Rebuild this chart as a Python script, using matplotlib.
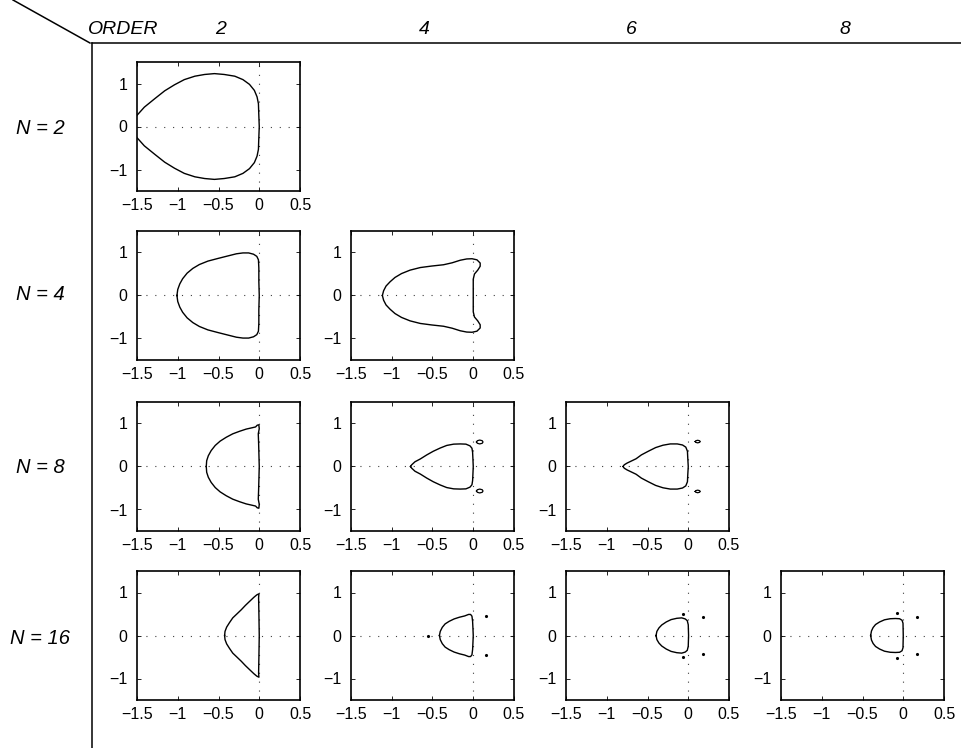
import matplotlib
matplotlib.use("Agg")
import matplotlib.pyplot as plt
from matplotlib.lines import Line2D
import numpy as np

plt.rcParams['font.family'] = ['Liberation Sans', 'DejaVu Sans']

# upper halves of the stability boundaries (the lower half is the mirror image)
# N = 2
n2_o2_x = [-1.50, -1.41, -1.28, -1.16, -1.04, -0.92, -0.79, -0.67, -0.55, -0.43, -0.30, -0.20, -0.12, -0.06, -0.027, -0.010, -0.006, 0.0]
n2_o2_y = [0.26, 0.45, 0.65, 0.83, 0.97, 1.09, 1.17, 1.21, 1.23, 1.21, 1.17, 1.09, 0.98, 0.84, 0.69, 0.53, 0.30, 0.0]

# N = 4
n4_o2_x = [-1.01, -1.00, -0.975, -0.94, -0.885, -0.815, -0.735, -0.63, -0.51, -0.385, -0.28, -0.20, -0.13, -0.07, -0.03, -0.01, -0.005, -0.005, 0.0]
n4_o2_y = [0.0, 0.14, 0.27, 0.39, 0.52, 0.63, 0.72, 0.80, 0.86, 0.92, 0.97, 0.99, 0.99, 0.96, 0.91, 0.83, 0.64, 0.33, 0.0]
n4_o4_x = [-1.115, -1.10, -1.07, -1.02, -0.96, -0.88, -0.775, -0.65, -0.51, -0.365, -0.26, -0.16, -0.08, -0.015, 0.045, 0.085, 0.085, 0.055, 0.015, 0.0, 0.0]
n4_o4_y = [0.0, 0.11, 0.22, 0.32, 0.42, 0.51, 0.59, 0.65, 0.685, 0.715, 0.76, 0.82, 0.85, 0.855, 0.83, 0.755, 0.68, 0.59, 0.50, 0.38, 0.0]

# N = 8
n8_o2_x = [-0.65, -0.645, -0.625, -0.59, -0.54, -0.48, -0.405, -0.325, -0.24, -0.16, -0.09, -0.045, -0.025, -0.005, 0.0, -0.012, -0.008, 0.0]
n8_o2_y = [0.0, 0.135, 0.25, 0.37, 0.49, 0.59, 0.68, 0.76, 0.82, 0.87, 0.90, 0.92, 0.96, 0.97, 0.88, 0.76, 0.56, 0.0]
n8_o4_x = [-0.77, -0.755, -0.715, -0.65, -0.57, -0.49, -0.405, -0.325, -0.24, -0.16, -0.09, -0.04, -0.016, -0.008, -0.004, 0.0]
n8_o4_y = [0.0, 0.04, 0.11, 0.175, 0.27, 0.355, 0.43, 0.49, 0.52, 0.525, 0.52, 0.48, 0.425, 0.33, 0.175, 0.0]
n8_o4_isl_x = [0.04, 0.05, 0.08, 0.11, 0.12, 0.11, 0.08, 0.05, 0.04]
n8_o4_isl_y = [0.57, 0.60, 0.615, 0.60, 0.57, 0.54, 0.525, 0.54, 0.57]
n8_o6_x = [-0.80, -0.785, -0.75, -0.695, -0.64, -0.575, -0.49, -0.40, -0.31, -0.22, -0.135, -0.07, -0.03, -0.01, -0.006, 0.0]
n8_o6_y = [0.0, 0.04, 0.08, 0.13, 0.18, 0.27, 0.355, 0.44, 0.495, 0.525, 0.525, 0.50, 0.45, 0.355, 0.20, 0.0]
n8_o6_isl_x = [0.085, 0.095, 0.116, 0.137, 0.148, 0.137, 0.116, 0.095, 0.085]
n8_o6_isl_y = [0.58, 0.60, 0.61, 0.60, 0.58, 0.56, 0.55, 0.56, 0.58]

# N = 16
n16_o2_x = [-0.425, -0.42, -0.40, -0.365, -0.325, -0.275, -0.22, -0.17, -0.115, -0.065, -0.03, -0.004, -0.008, -0.004, 0.0]
n16_o2_y = [0.0, 0.095, 0.195, 0.30, 0.41, 0.50, 0.60, 0.70, 0.80, 0.89, 0.945, 0.97, 0.88, 0.48, 0.0]
n16_o4_x = [-0.415, -0.405, -0.38, -0.345, -0.295, -0.235, -0.17, -0.105, -0.057, -0.033, -0.016, -0.008, -0.004, 0.0]
n16_o4_y = [0.0, 0.095, 0.19, 0.27, 0.33, 0.385, 0.425, 0.455, 0.49, 0.49, 0.45, 0.33, 0.175, 0.0]
n16_o4_dots_x = [0.152, 0.152, -0.557]
n16_o4_dots_y = [0.46, -0.46, 0.0]
n16_o6_x = [-0.395, -0.385, -0.36, -0.325, -0.27, -0.21, -0.14, -0.08, -0.037, -0.012, 0.0, 0.004]
n16_o6_y = [0.0, 0.095, 0.175, 0.245, 0.315, 0.37, 0.40, 0.41, 0.385, 0.345, 0.25, 0.0]
n16_o6_dots_x = [-0.066, -0.066, 0.176, 0.176]
n16_o6_dots_y = [0.50, -0.50, 0.43, -0.43]
n16_o8_x = [-0.40, -0.39, -0.37, -0.34, -0.29, -0.23, -0.16, -0.095, -0.045, -0.015, -0.003, 0.0]
n16_o8_y = [0.0, 0.105, 0.185, 0.255, 0.315, 0.365, 0.39, 0.395, 0.39, 0.355, 0.285, 0.0]
n16_o8_dots_x = [-0.073, -0.073, 0.169, 0.169]
n16_o8_dots_y = [0.52, -0.52, 0.44, -0.44]

orders = ['2', '4', '6', '8']
row_names = ['N = 2', 'N = 4', 'N = 8', 'N = 16']
x_ticks = [-1.5, -1, -0.5, 0, 0.5]
x_ticklabels = ['\u22121.5', '\u22121', '\u22120.5', '0', '0.5']
y_ticks = [-1, 0, 1]
y_ticklabels = ['\u22121', '0', '1']

panels = {
    (0, 0): (n2_o2_x, n2_o2_y, None, None, None),
    (1, 0): (n4_o2_x, n4_o2_y, None, None, None),
    (1, 1): (n4_o4_x, n4_o4_y, None, None, None),
    (2, 0): (n8_o2_x, n8_o2_y, None, None, None),
    (2, 1): (n8_o4_x, n8_o4_y, (n8_o4_isl_x, n8_o4_isl_y), None, None),
    (2, 2): (n8_o6_x, n8_o6_y, (n8_o6_isl_x, n8_o6_isl_y), None, None),
    (3, 0): (n16_o2_x, n16_o2_y, None, None, None),
    (3, 1): (n16_o4_x, n16_o4_y, None, n16_o4_dots_x, n16_o4_dots_y),
    (3, 2): (n16_o6_x, n16_o6_y, None, n16_o6_dots_x, n16_o6_dots_y),
    (3, 3): (n16_o8_x, n16_o8_y, None, n16_o8_dots_x, n16_o8_dots_y),
}

W, H = 961, 748
fig = plt.figure(figsize=(W / 100, H / 100), dpi=100)

col_left = [137, 351, 566, 781]
row_bottom = [191, 360, 531, 700]
aw, ah = 163, 129

for (r, c), (cx, cy, isl, dx, dy) in panels.items():
    ax = fig.add_axes([col_left[c] / W, 1 - row_bottom[r] / H, aw / W, ah / H])
    ax.axhline(0, color='0.25', lw=0.8, ls=(0, (1, 7)), zorder=1)
    ax.axvline(0, color='0.25', lw=0.8, ls=(0, (1, 7)), zorder=1)
    # mirror the upper half to get the closed curve
    cx = np.array(cx)
    cy = np.array(cy)
    full_x = np.concatenate([cx, cx[::-1][1:]])
    full_y = np.concatenate([cy, -cy[::-1][1:]])
    ax.plot(full_x, full_y, color='k', lw=1.0, zorder=3)
    if isl is not None:
        ix, iy = np.array(isl[0]), np.array(isl[1])
        ax.plot(ix, iy, color='k', lw=0.9)
        ax.plot(ix, -iy, color='k', lw=0.9)
    if dx is not None:
        ax.plot(dx, dy, 'k.', ms=2.5)
    ax.set_xlim(-1.5, 0.5)
    ax.set_ylim(-1.5, 1.5)
    ax.set_xticks(x_ticks)
    ax.set_xticklabels(x_ticklabels)
    ax.set_yticks(y_ticks)
    ax.set_yticklabels(y_ticklabels)
    ax.tick_params(direction='in', top=True, right=True, length=3, width=0.6, labelsize=11.5)
    ax.tick_params(axis='x', pad=5)
    ax.tick_params(axis='y', pad=7)
    for sp in ax.spines.values():
        sp.set_linewidth(1.2)

# table frame
fig.add_artist(Line2D([13 / W, 90 / W], [1, 1 - 43 / H], color='k', lw=1.1))
fig.add_artist(Line2D([92 / W, 1], [1 - 43 / H, 1 - 43 / H], color='k', lw=1.1))
fig.add_artist(Line2D([92 / W, 92 / W], [1 - 43 / H, 0], color='k', lw=1.1))

fig.text(88 / W, 1 - 30 / H, 'ORDER', fontsize=14, style='italic', ha='left', va='center')
col_lab_x = [221, 424, 631, 845]
for xp, o in zip(col_lab_x, orders):
    fig.text(xp / W, 1 - 30 / H, o, fontsize=14, style='italic', ha='center', va='center')

row_lab_y = [128, 295, 467, 638]
for yp, name in zip(row_lab_y, row_names):
    fig.text(40 / W, 1 - yp / H, name, fontsize=14.5, style='italic', ha='center', va='center')

fig.savefig('out.png', dpi=100)
